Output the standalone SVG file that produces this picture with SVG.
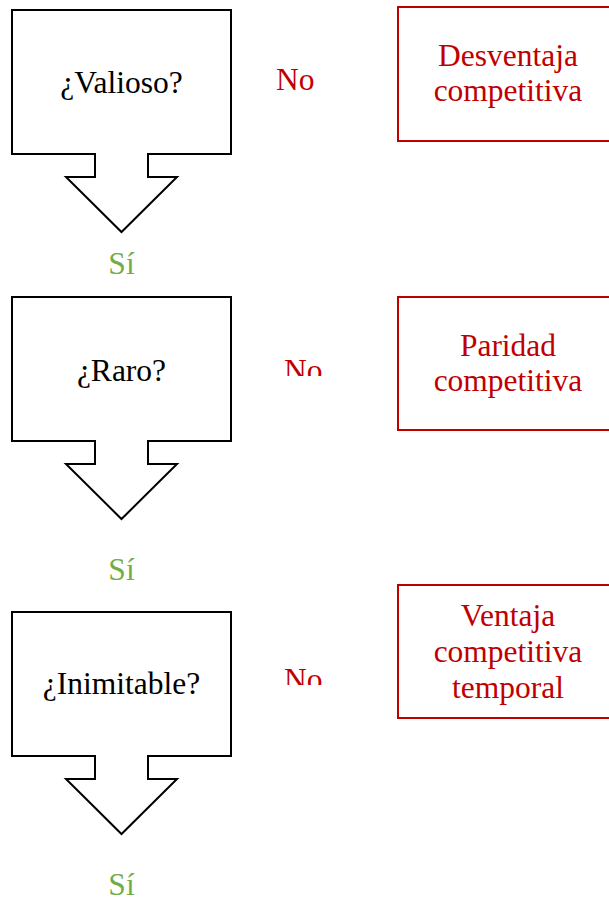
<svg xmlns="http://www.w3.org/2000/svg" width="609" height="903" viewBox="0 0 609 903">
<style>
text{font-family:"Liberation Serif","Times New Roman",serif;font-size:31.5px;text-anchor:middle}
.q{fill:#000}
.no{fill:#c00000;text-anchor:start}
.si{fill:#70ad47}
.res{fill:#c00000}
.arrow{fill:#fff;stroke:#000;stroke-width:2}
.box{fill:#fff;stroke:#c00000;stroke-width:2}
</style>
<defs>
<path id="dn" d="M12,0 H231 V144 H148 V167 H177 L121.5,222 L66,167 H95 V144 H12 Z"/>
<clipPath id="c2"><rect x="270" y="340" width="80" height="36"/></clipPath>
<clipPath id="c3"><rect x="270" y="650" width="80" height="35"/></clipPath>
</defs>
<rect width="609" height="903" fill="#fff"/>
<g id="q1"><use href="#dn" class="arrow" y="10"/><text class="q" x="121.5" y="93">¿Valioso?</text></g>
<g id="q2"><use href="#dn" class="arrow" y="297"/><text class="q" x="121.5" y="381">¿Raro?</text></g>
<g id="q3"><use href="#dn" class="arrow" y="612"/><text class="q" x="121.5" y="694">¿Inimitable?</text></g>
<g id="r1"><rect class="box" x="398" y="7" width="222" height="134"/><text class="res" x="508" y="66">Desventaja</text><text class="res" x="508" y="101">competitiva</text></g>
<g id="r2"><rect class="box" x="398" y="297" width="222" height="133"/><text class="res" x="508" y="356">Paridad</text><text class="res" x="508" y="391">competitiva</text></g>
<g id="r3"><rect class="box" x="398" y="585" width="222" height="133"/><text class="res" x="508" y="626">Ventaja</text><text class="res" x="508" y="662">competitiva</text><text class="res" x="508" y="698">temporal</text></g>
<g id="connectors">
<text class="no" x="276" y="90">No</text>
<text class="no" x="284" y="381" clip-path="url(#c2)">No</text>
<text class="no" x="284" y="690" clip-path="url(#c3)">No</text>
<text class="si" x="121.5" y="274">Sí</text>
<text class="si" x="121.5" y="580">Sí</text>
<text class="si" x="121.5" y="895">Sí</text>
</g>
</svg>
